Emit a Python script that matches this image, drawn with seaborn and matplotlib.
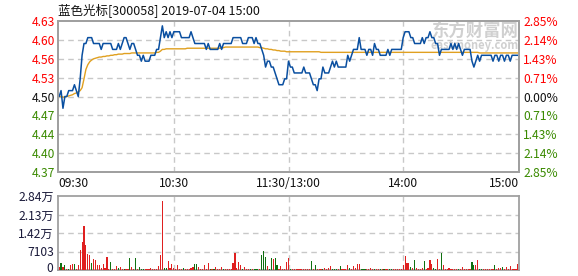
import matplotlib
matplotlib.use("Agg")
import matplotlib.pyplot as plt
import numpy as np
import pandas as pd
import seaborn as sns

title = "蓝色光标[300058] 2019-07-04 15:00"
prev_close = 4.50
pct_range = 0.0285

price = [
    4.50, 4.51, 4.48, 4.50, 4.50, 4.51, 4.51, 4.51, 4.52, 4.51,
    4.50, 4.53, 4.57, 4.59, 4.59, 4.60, 4.60, 4.60, 4.59, 4.59,
    4.59, 4.59, 4.58, 4.59, 4.59, 4.59, 4.59, 4.59, 4.58, 4.58,
    4.58, 4.59, 4.58, 4.59, 4.60, 4.60, 4.59, 4.58, 4.59, 4.59,
    4.58, 4.57, 4.57, 4.56, 4.57, 4.56, 4.56, 4.56, 4.57, 4.57,
    4.57, 4.58, 4.58, 4.60, 4.62, 4.60, 4.61, 4.60, 4.61, 4.60,
    4.61, 4.61, 4.61, 4.61, 4.60, 4.60, 4.60, 4.60, 4.60, 4.61,
    4.60, 4.59, 4.59, 4.59, 4.59, 4.59, 4.59, 4.58, 4.59, 4.58,
    4.58, 4.58, 4.58, 4.58, 4.59, 4.58, 4.59, 4.59, 4.59, 4.59,
    4.59, 4.60, 4.60, 4.60, 4.60, 4.60, 4.59, 4.59, 4.59, 4.60,
    4.60, 4.60, 4.59, 4.60, 4.59, 4.59, 4.58, 4.57, 4.55, 4.56,
    4.56, 4.55, 4.55, 4.54, 4.53, 4.52, 4.52, 4.52, 4.53, 4.53,
    4.56, 4.55, 4.55, 4.54, 4.54, 4.54, 4.54, 4.54, 4.55, 4.54,
    4.54, 4.54, 4.53, 4.52, 4.52, 4.51, 4.53, 4.53, 4.55, 4.54,
    4.54, 4.54, 4.55, 4.56, 4.55, 4.56, 4.55, 4.55, 4.55, 4.55,
    4.55, 4.57, 4.56, 4.57, 4.58, 4.58, 4.58, 4.60, 4.58, 4.58,
    4.58, 4.57, 4.58, 4.58, 4.57, 4.59, 4.58, 4.58, 4.57, 4.57,
    4.57, 4.57, 4.58, 4.57, 4.58, 4.58, 4.58, 4.58, 4.58, 4.58,
    4.60, 4.61, 4.61, 4.61, 4.60, 4.60, 4.59, 4.59, 4.59, 4.59,
    4.60, 4.59, 4.60, 4.60, 4.61, 4.60, 4.60, 4.59, 4.59, 4.57,
    4.58, 4.58, 4.58, 4.58, 4.58, 4.59, 4.58, 4.59, 4.58, 4.59,
    4.58, 4.57, 4.58, 4.58, 4.58, 4.58, 4.56, 4.55, 4.56, 4.57,
    4.56, 4.57, 4.57, 4.57, 4.57, 4.57, 4.57, 4.56, 4.57, 4.57,
    4.56, 4.57, 4.57, 4.56, 4.57, 4.57, 4.56, 4.57, 4.57, 4.57,
    4.57,
]

avg_price = [
    4.500, 4.500, 4.499, 4.499, 4.500, 4.501, 4.502, 4.503, 4.505, 4.506,
    4.508, 4.510, 4.515, 4.530, 4.546, 4.554, 4.559, 4.562, 4.564, 4.565,
    4.566, 4.567, 4.567, 4.568, 4.568, 4.569, 4.569, 4.570, 4.570, 4.571,
    4.571, 4.572, 4.572, 4.572, 4.573, 4.573, 4.573, 4.573, 4.574, 4.574,
    4.574, 4.574, 4.574, 4.574, 4.574, 4.574, 4.574, 4.574, 4.574, 4.574,
    4.574, 4.575, 4.575, 4.577, 4.580, 4.580, 4.581, 4.581, 4.581, 4.581,
    4.581, 4.581, 4.581, 4.581, 4.581, 4.581, 4.581, 4.582, 4.582, 4.582,
    4.582, 4.582, 4.582, 4.582, 4.582, 4.582, 4.582, 4.582, 4.582, 4.582,
    4.582, 4.582, 4.582, 4.582, 4.582, 4.582, 4.583, 4.584, 4.584, 4.584,
    4.584, 4.584, 4.584, 4.584, 4.584, 4.584, 4.584, 4.584, 4.584, 4.584,
    4.584, 4.584, 4.584, 4.584, 4.584, 4.583, 4.583, 4.582, 4.581, 4.581,
    4.580, 4.580, 4.579, 4.579, 4.578, 4.578, 4.577, 4.577, 4.577, 4.576,
    4.576, 4.576, 4.576, 4.576, 4.576, 4.576, 4.576, 4.576, 4.576, 4.576,
    4.576, 4.576, 4.576, 4.576, 4.576, 4.576, 4.576, 4.575, 4.575, 4.575,
    4.575, 4.575, 4.575, 4.575, 4.575, 4.575, 4.575, 4.575, 4.575, 4.575,
    4.575, 4.575, 4.575, 4.575, 4.575, 4.575, 4.575, 4.575, 4.575, 4.575,
    4.575, 4.575, 4.575, 4.575, 4.575, 4.575, 4.575, 4.575, 4.575, 4.575,
    4.575, 4.575, 4.575, 4.575, 4.575, 4.575, 4.575, 4.575, 4.575, 4.575,
    4.575, 4.575, 4.575, 4.575, 4.575, 4.575, 4.575, 4.575, 4.575, 4.575,
    4.575, 4.575, 4.575, 4.575, 4.575, 4.575, 4.575, 4.575, 4.575, 4.575,
    4.575, 4.575, 4.575, 4.575, 4.575, 4.575, 4.575, 4.575, 4.575, 4.575,
    4.575, 4.575, 4.575, 4.575, 4.575, 4.575, 4.575, 4.575, 4.575, 4.575,
    4.574, 4.574, 4.574, 4.574, 4.574, 4.574, 4.574, 4.574, 4.574, 4.574,
    4.574, 4.574, 4.574, 4.574, 4.574, 4.574, 4.574, 4.574, 4.574, 4.574,
    4.574,
]

volume = [
    1000, 2600, 1000, 1900, 400, 400, 1900, 2300, 2300, 400,
    1900, 7700, 10800, 17000, 9700, 6200, 5800, 2600, 4300, 3900,
    1900, 1900, 800, 2300, 600, 5000, 400, 3100, 400, 400,
    1500, 800, 1100, 400, 400, 400, 400, 4600, 1100, 400,
    4600, 400, 1100, 400, 400, 400, 400, 400, 800, 400,
    400, 400, 1500, 5800, 26400, 800, 800, 3500, 800, 2300,
    600, 400, 1900, 400, 400, 800, 400, 400, 400, 800,
    1200, 2300, 2300, 1200, 400, 400, 1900, 400, 2700, 400,
    400, 400, 1200, 400, 400, 1200, 400, 400, 400, 400,
    400, 2700, 6600, 800, 3100, 1900, 400, 1200, 400, 400,
    400, 400, 400, 400, 400, 400, 5800, 7400, 5000, 1500,
    400, 4600, 4300, 4600, 1900, 400, 1500, 400, 400, 3100,
    4600, 400, 400, 400, 400, 400, 400, 400, 400, 400,
    400, 400, 3500, 400, 1900, 400, 400, 400, 400, 800,
    400, 800, 1500, 400, 400, 400, 400, 1500, 400, 400,
    400, 1900, 800, 400, 1500, 800, 2300, 2300, 400, 400,
    400, 400, 400, 800, 400, 400, 400, 400, 400, 400,
    400, 400, 400, 400, 400, 400, 400, 400, 400, 400,
    1900, 5400, 2700, 2700, 1200, 800, 3900, 800, 400, 400,
    800, 3500, 400, 800, 3900, 2300, 800, 400, 4300, 400,
    6600, 1900, 400, 400, 800, 400, 400, 400, 400, 400,
    400, 1200, 400, 400, 400, 400, 3100, 1900, 1900, 3900,
    400, 400, 400, 400, 400, 400, 400, 400, 1900, 400,
    800, 800, 1200, 400, 1200, 400, 1500, 400, 400, 400,
    2300,
]

direction = (
    "udududuudu" "uuuuuuuduu" "uuuuuuuduu" "uduuduuduu" "duddduuuuu"
    "uuuuudduuu" "uuuuuduuuu" "udduuuuuud" "uduuuuduuu" "uuuuuuduuu"
    "dudddudddu" "ddudduuuuu" "uduuuuuuuu" "uududuuudu"
    "uuuddduduu" "uuduuuuudd" "duuuuduudu" "duudduuuuu" "uuuududuuu"
    "uduuuudduu" "duuuuuuuud" "uuuuuudduu" "dduuuuuudu" "uuduuuuuuu" "u"
)

time_pos = [0, 60, 120, 180, 240]
time_labels = ["09:30", "10:30", "11:30/13:00", "14:00", "15:00"]
price_labels = ["4.37", "4.40", "4.44", "4.47", "4.50", "4.53", "4.56", "4.60", "4.63"]
pct_labels = ["2.85%", "2.14%", "1.43%", "0.71%", "0.00%", "0.71%", "1.43%", "2.14%", "2.85%"]
vol_max = 28412
vol_ticks = [0, 7103, 14206, 21309, 28412]
vol_labels = ["0", "7103", "1.42万", "2.13万", "2.84万"]

n = len(price)
df = pd.DataFrame({
    "minute": np.arange(n),
    "price": price,
    "avg": avg_price,
    "volume": volume,
    "dir": list(direction[:n]),
})

sns.set_theme(style="white")
plt.rcParams["font.family"] = ["Noto Sans CJK SC", "DejaVu Sans"]

W, H = 578, 276
fig = plt.figure(figsize=(W / 100, H / 100), dpi=100)
L, R = 58, 519
ax = fig.add_axes([L / W, (H - 172) / H, (R - L) / W, (172 - 21) / H])
axv = fig.add_axes([L / W, (H - 270) / H, (R - L) / W, (270 - 196) / H])

grid_c = "#c8c8c8"
border_c = "#a0a0a0"
red_c, green_c, dark_c = "#ff0000", "#3a8a00", "#111111"
xl = (-0.6, n - 0.4)
fs = 8.7

# price panel
lo, hi = prev_close * (1 - pct_range), prev_close * (1 + pct_range)
ax.set_xlim(*xl)
ax.set_ylim(lo, hi)
steps = np.linspace(lo, hi, 9)
for v in steps[1:-1]:
    ax.axhline(v, color=grid_c, lw=1, ls=(0, (4, 3)), zorder=0)
for p in time_pos[1:-1]:
    ax.axvline(p, color=grid_c, lw=1, ls=(0, (4, 3)), zorder=0)

# watermark
ax.text(1.0, 0.935, "东方财富网", transform=ax.transAxes, ha="right", va="center",
        fontsize=12.5, color="#d0d0d0", fontweight="bold", zorder=1)
ax.text(1.0, 0.835, "eastmoney.com", transform=ax.transAxes, ha="right", va="center",
        fontsize=8, color="#d0d0d0", fontweight="bold", style="italic", zorder=1)

sns.lineplot(data=df, x="minute", y="avg", ax=ax, color="#e0a020", lw=1.0, zorder=3)
sns.lineplot(data=df, x="minute", y="price", ax=ax, color="#0a4fa0", lw=1.1, zorder=4)

ax.set_xlabel("")
ax.set_ylabel("")
ax.set_yticks(steps)
ax.set_yticklabels(price_labels, fontsize=fs)
ax.set_xticks([])
for i, t in enumerate(ax.get_yticklabels()):
    t.set_color(red_c if i > 4 else (dark_c if i == 4 else green_c))
ax.tick_params(axis="y", length=0, pad=2)

ax2 = ax.twinx()
ax2.set_ylim(lo, hi)
ax2.set_yticks(steps)
ax2.set_yticklabels(pct_labels, fontsize=fs)
for i, t in enumerate(ax2.get_yticklabels()):
    t.set_color(red_c if i > 4 else (dark_c if i == 4 else green_c))
ax2.tick_params(axis="y", length=0, pad=3)
ax2.grid(False)

for a in (ax, ax2):
    for s in a.spines.values():
        s.set_color(border_c)
        s.set_linewidth(1.3)

# time labels
for p, lab in zip(time_pos, time_labels):
    ha = "left" if p == 0 else ("right" if p == n - 1 else "center")
    xpos = xl[0] if p == 0 else (xl[1] if p == n - 1 else p)
    ax.text(xpos, -0.075, lab, transform=ax.get_xaxis_transform(), ha=ha, va="center",
            fontsize=fs, color=dark_c)

fig.text(L / W, 1 - 10 / H, title, ha="left", va="center", fontsize=9, color=dark_c)

# volume panel
sns.barplot(data=df, x="minute", y="volume", hue="dir", palette={"u": "#ff0000", "d": "#008000"},
            native_scale=True, dodge=False, width=0.6, legend=False, ax=axv, zorder=3,
            linewidth=0, errorbar=None)
for p in axv.patches:
    p.set_antialiased(False)
axv.set_xlim(*xl)
axv.set_ylim(0, vol_max)
for v in vol_ticks[1:-1]:
    axv.axhline(v, color=grid_c, lw=1, ls=(0, (4, 3)), zorder=0)
for p in time_pos[1:-1]:
    axv.axvline(p, color=grid_c, lw=1, ls=(0, (4, 3)), zorder=0)
axv.set_xlabel("")
axv.set_ylabel("")
axv.set_xticks([])
axv.set_yticks(vol_ticks[1:])
axv.set_yticklabels(vol_labels[1:], fontsize=fs, color="#1a1a3a")
fig.text((L - 5) / W, (H - 268) / H, vol_labels[0], ha="right", va="center",
         fontsize=fs, color="#1a1a3a")
axv.tick_params(axis="y", length=0, pad=3)
for s in axv.spines.values():
    s.set_color(border_c)
    s.set_linewidth(1.3)

fig.savefig("out.png", dpi=100)
